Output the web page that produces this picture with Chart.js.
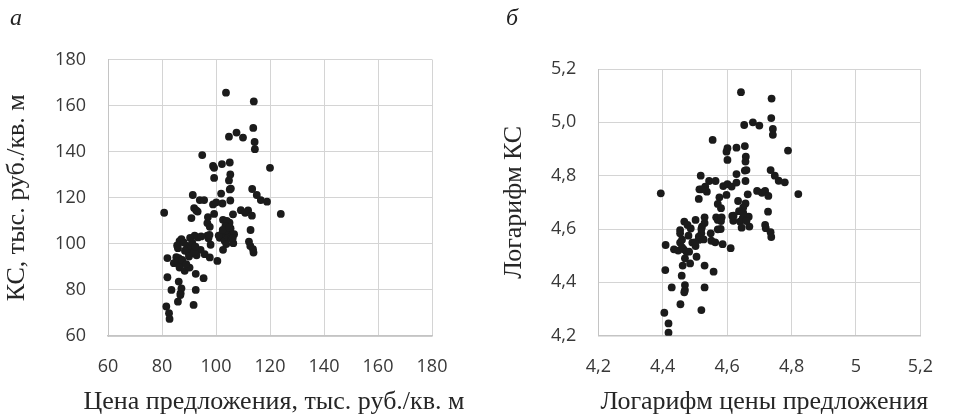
<!DOCTYPE html>
<html>
<head>
<meta charset="utf-8">
<script src="https://cdn.jsdelivr.net/npm/chart.js@4"></script>
<style>
  html, body { margin: 0; padding: 0; background: #fff; }
  #wrap { position: relative; width: 953px; height: 414px; overflow: hidden; }
  canvas { position: absolute; top: 0; }
  .tag { position: absolute; top: 4px; font: italic 24px "Liberation Serif", serif; color: #222; }
</style>
</head>
<body>
<div id="wrap">
  <canvas id="chartA" width="480" height="414" style="left:0"></canvas>
  <canvas id="chartB" width="473" height="414" style="left:480px"></canvas>
  <div class="tag" style="left:10px">а</div>
  <div class="tag" style="left:506px">б</div>
</div>
<script>
// ---------- data: panel а (цена предложения vs КС) ----------
const priceA = [
  103.7, 114.0, 113.8, 107.6, 104.8, 110.0, 114.3, 114.4, 94.9, 98.9,
  99.3, 102.2, 105.1, 99.3, 105.3, 104.8, 105.1, 105.5, 101.9, 113.4,
  115.1, 120.0, 116.6, 118.9, 91.4, 94.0, 95.6, 91.9, 92.7, 93.2,
  98.9, 100.1, 105.3, 102.4, 109.2, 111.9, 110.8, 106.3, 113.3, 99.3,
  80.8, 124.0, 97.0, 90.9, 102.6, 105.0, 96.8, 97.7, 105.4, 104.3,
  112.8, 101.4, 102.2, 106.7, 96.8, 97.2, 93.3, 92.1, 90.4, 87.2,
  86.5, 103.2, 103.8, 106.4, 112.2, 112.7, 113.7, 113.9, 102.6, 85.9,
  85.6, 89.3, 90.9, 94.3, 89.9, 91.5, 95.8, 97.7, 100.5, 82.0,
  85.3, 86.2, 84.4, 85.9, 87.2, 86.5, 88.4, 90.2, 82.0, 86.2,
  92.5, 95.4, 83.5, 87.2, 86.9, 86.8, 92.5, 85.9, 91.7, 81.6,
  82.6, 82.8, 88.5, 90.0, 91.2, 92.8, 88.0, 87.5, 89.0, 104.6,
  105.6, 103.6, 101.0, 98.0, 97.6, 92.0, 94.5, 92.4, 104.0, 103.5,
  106.2, 102.5, 104.9
];
const kcA = [
  165.6, 161.8, 150.3, 148.3, 146.5, 146.1, 144.2, 141.1, 138.5, 133.8,
  133.0, 134.6, 135.3, 128.6, 130.1, 127.5, 123.6, 124.0, 121.8, 123.8,
  121.2, 133.0, 119.0, 118.3, 121.2, 119.0, 119.0, 115.5, 114.5, 114.0,
  117.1, 118.0, 118.8, 117.5, 114.6, 114.5, 113.5, 112.8, 112.2, 113.0,
  113.5, 113.0, 111.6, 111.2, 110.4, 109.2, 109.0, 107.4, 106.7, 104.8,
  106.0, 102.6, 104.2, 104.2, 103.6, 102.4, 102.8, 103.6, 102.6, 102.0,
  101.2, 101.3, 99.9, 100.3, 101.0, 99.1, 97.7, 96.2, 97.4, 98.1,
  99.3, 99.1, 98.1, 97.4, 95.9, 95.9, 95.5, 94.1, 92.6, 93.8,
  94.2, 93.8, 91.6, 92.3, 91.6, 89.7, 88.3, 89.7, 85.5, 83.6,
  87.0, 85.1, 80.0, 80.7, 78.6, 77.8, 80.0, 74.9, 73.5, 72.8,
  69.9, 67.4, 97.0, 94.5, 100.5, 95.0, 100.6, 93.0, 91.2, 103.0,
  102.4, 105.8, 103.6, 99.6, 103.9, 96.6, 103.2, 98.8, 110.0, 107.8,
  102.5, 106.1, 107.1
];

// ---------- data: panel б (логарифмы) ----------
const logPriceB = [
  4.643, 4.738, 4.737, 4.680, 4.700, 4.653, 4.742, 4.742, 4.555, 4.789,
  4.601, 4.598, 4.629, 4.655, 4.601, 4.658, 4.657, 4.655, 4.660, 4.657,
  4.629, 4.735, 4.748, 4.760, 4.779, 4.518, 4.544, 4.564, 4.532, 4.537,
  4.514, 4.520, 4.512, 4.588, 4.601, 4.614, 4.629, 4.598, 4.576, 4.664,
  4.693, 4.718, 4.708, 4.728, 4.394, 4.821, 4.634, 4.571, 4.581, 4.657,
  4.650, 4.637, 4.727, 4.667, 4.616, 4.619, 4.648, 4.640, 4.669, 4.645,
  4.718, 4.720, 4.735, 4.737, 4.566, 4.571, 4.583, 4.581, 4.571, 4.530,
  4.530, 4.502, 4.522, 4.520, 4.549, 4.467, 4.477, 4.487, 4.454, 4.454,
  4.512, 4.512, 4.527, 4.492, 4.551, 4.563, 4.586, 4.611, 4.502, 4.454,
  4.460, 4.409, 4.435, 4.448, 4.465, 4.474, 4.482, 4.469, 4.505, 4.485,
  4.462, 4.530, 4.558, 4.408, 4.459, 4.469, 4.469, 4.467, 4.428, 4.530,
  4.455, 4.520, 4.405, 4.418, 4.418, 4.480, 4.500, 4.520, 4.460, 4.650,
  4.660, 4.620, 4.580
];
const logKcB = [
  5.113, 5.089, 5.016, 5.000, 4.988, 4.990, 4.975, 4.953, 4.934, 4.894,
  4.903, 4.890, 4.905, 4.911, 4.859, 4.871, 4.853, 4.819, 4.821, 4.780,
  4.806, 4.821, 4.800, 4.781, 4.775, 4.800, 4.780, 4.780, 4.759, 4.740,
  4.749, 4.749, 4.713, 4.761, 4.768, 4.759, 4.774, 4.728, 4.719, 4.730,
  4.743, 4.743, 4.736, 4.724, 4.734, 4.731, 4.705, 4.694, 4.678, 4.696,
  4.681, 4.667, 4.665, 4.646, 4.649, 4.631, 4.640, 4.628, 4.609, 4.605,
  4.615, 4.603, 4.588, 4.570, 4.644, 4.634, 4.644, 4.630, 4.599, 4.644,
  4.623, 4.634, 4.609, 4.584, 4.584, 4.628, 4.615, 4.602, 4.596, 4.584,
  4.571, 4.559, 4.561, 4.549, 4.556, 4.550, 4.543, 4.528, 4.536, 4.549,
  4.531, 4.540, 4.524, 4.519, 4.524, 4.515, 4.515, 4.490, 4.496, 4.471,
  4.463, 4.463, 4.440, 4.446, 4.425, 4.390, 4.371, 4.363, 4.381, 4.381,
  4.318, 4.296, 4.286, 4.246, 4.211, 4.575, 4.550, 4.600, 4.560, 4.660,
  4.630, 4.650, 4.600
];

// ---------- tick labels ----------
const ticksA      = [60, 80, 100, 120, 140, 160, 180];
const ticksLabelA = ['60', '80', '100', '120', '140', '160', '180'];
const ticksB      = [4.2, 4.4, 4.6, 4.8, 5.0, 5.2];
const xLabelsB    = ['4,2', '4,4', '4,6', '4,8', '5', '5,2'];
const yLabelsB    = ['4,2', '4,4', '4,6', '4,8', '5,0', '5,2'];

const titleA = { x: 'Цена предложения, тыс. руб./кв. м', y: 'КС, тыс. руб./кв. м' };
const titleB = { x: 'Логарифм цены предложения', y: 'Логарифм КС' };

// ---------- helpers ----------
const tickFont  = { family: '"Open Sans", sans-serif', size: 18 };
const titleFont = { family: '"Liberation Serif", serif', size: 26, lineHeight: 1.1 };
const gridColor = '#d4d4d4';

function pts(xs, ys) { return xs.map((x, i) => ({ x, y: ys[i] })); }

// x title drawn by hand: the built-in one squeezes text to the scale width
const xTitlePlugin = {
  id: 'xTitle',
  afterDraw(chart, args, o) {
    const { ctx, chartArea } = chart;
    ctx.save();
    ctx.font = titleFont.size + 'px ' + titleFont.family;
    ctx.fillStyle = '#262626';
    ctx.textAlign = 'center';
    ctx.textBaseline = 'alphabetic';
    ctx.fillText(o.text, (chartArea.left + chartArea.right) / 2 + o.dx, o.y);
    ctx.restore();
  }
};

function axis(values, labels, o) {
  return {
    type: 'linear',
    min: values[0],
    max: values[values.length - 1],
    afterBuildTicks: s => { s.ticks = values.map(v => ({ value: v })); },
    afterFit: s => { if (o.w != null) s.width = o.w; if (o.h != null) s.height = o.h; },
    grid: { color: gridColor, lineWidth: 1, drawTicks: false },
    border: { color: '#c4c4c4', width: o.bw || 1 },
    ticks: {
      font: tickFont, color: '#383838', padding: o.pad,
      autoSkip: false, maxRotation: 0,
      callback: v => labels[values.findIndex(t => Math.abs(t - v) < 1e-6)]
    },
    title: o.title
      ? { display: true, text: o.title, font: titleFont, color: '#262626', padding: o.tpad }
      : { display: false }
  };
}

function scatter(id, data, opts) {
  return new Chart(document.getElementById(id), {
    type: 'scatter',
    data: { datasets: [{ data, backgroundColor: '#1b1b1b', borderWidth: 0, pointRadius: 3.9 }] },
    options: {
      responsive: false, animation: false,
      layout: { padding: opts.padding },
      plugins: { legend: { display: false }, tooltip: { enabled: false }, xTitle: opts.xTitle },
      scales: { x: opts.x, y: opts.y }
    },
    plugins: [xTitlePlugin]
  });
}

// ---------- charts ----------
scatter('chartA', pts(priceA, kcA), {
  padding: { top: 59.5, right: 48, bottom: 0, left: 0 },
  xTitle: { text: titleA.x, dx: 4, y: 409 },
  x: axis(ticksA, ticksLabelA, { h: 78, pad: 20, bw: 1.5 }),
  y: axis(ticksA, ticksLabelA, { w: 108, pad: 22, title: titleA.y, tpad: { top: 3, bottom: 0 } })
});

scatter('chartB', pts(logPriceB, logKcB), {
  padding: { top: 69, right: 18, bottom: 0, left: 0 },
  xTitle: { text: titleB.x, dx: 5, y: 409 },
  x: axis(ticksB, xLabelsB, { h: 78.3, pad: 20, bw: 1.5 }),
  y: axis(ticksB, yLabelsB, { w: 118.3, pad: 22, title: titleB.y, tpad: { top: 20, bottom: 0 } })
});
</script>
</body>
</html>
